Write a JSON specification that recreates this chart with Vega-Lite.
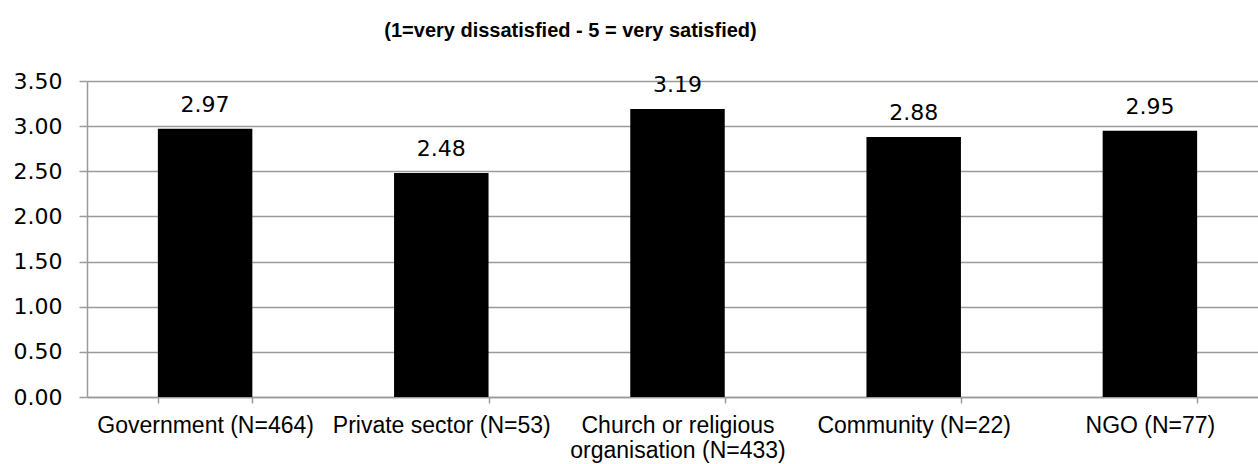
{
  "$schema": "https://vega.github.io/schema/vega-lite/v6.json",
  "width": 1181,
  "height": 316,
  "autosize": "none",
  "padding": {"left": 87, "top": 81, "right": -10, "bottom": 67},
  "background": "white",
  "title": {
    "text": "(1=very dissatisfied - 5 = very satisfied)",
    "font": "Liberation Sans",
    "fontSize": 20,
    "fontWeight": "bold",
    "color": "black",
    "anchor": "middle",
    "frame": "group",
    "dx": -107,
    "offset": 29
  },
  "config": {
    "view": {"stroke": null},
    "axis": {"domainColor": "#9a9a9a", "tickColor": "#9a9a9a", "gridColor": "#9a9a9a", "labelColor": "black"}
  },
  "data": {
    "values": [
      {"category": "Government (N=464)", "value": 2.97},
      {"category": "Private sector (N=53)", "value": 2.48},
      {"category": "Church or religious organisation (N=433)", "value": 3.19},
      {"category": "Community (N=22)", "value": 2.88},
      {"category": "NGO (N=77)", "value": 2.95}
    ]
  },
  "encoding": {
    "x": {
      "field": "category",
      "type": "nominal",
      "sort": null,
      "scale": {"paddingInner": 0.6, "paddingOuter": 0.3},
      "axis": {
        "title": null,
        "labelAngle": 0,
        "labelFont": "Liberation Sans",
        "labelFontSize": 23,
        "labelPadding": 11,
        "labelLineHeight": 25,
        "labelLimit": 0,
        "tickBand": "extent",
        "tickSize": 6,
        "domainWidth": 1.5,
        "tickWidth": 1.5,
        "labelExpr": "datum.label == 'Church or religious organisation (N=433)' ? ['Church or religious', 'organisation (N=433)'] : datum.label"
      }
    },
    "y": {
      "field": "value",
      "type": "quantitative",
      "scale": {"domain": [0, 3.5], "nice": false},
      "axis": {
        "title": null,
        "values": [0, 0.5, 1, 1.5, 2, 2.5, 3, 3.5],
        "format": ".2f",
        "labelFont": "DejaVu Sans",
        "labelFontSize": 22,
        "labelPadding": 17,
        "tickSize": 8,
        "gridWidth": 1.5,
        "domainWidth": 1.5,
        "tickWidth": 1.5
      }
    }
  },
  "layer": [
    {"mark": {"type": "bar", "color": "black"}},
    {
      "mark": {"type": "text", "baseline": "alphabetic", "dy": -17, "font": "DejaVu Sans", "fontSize": 22, "color": "black"},
      "encoding": {"text": {"field": "value", "type": "quantitative", "format": ".2f"}}
    }
  ]
}
